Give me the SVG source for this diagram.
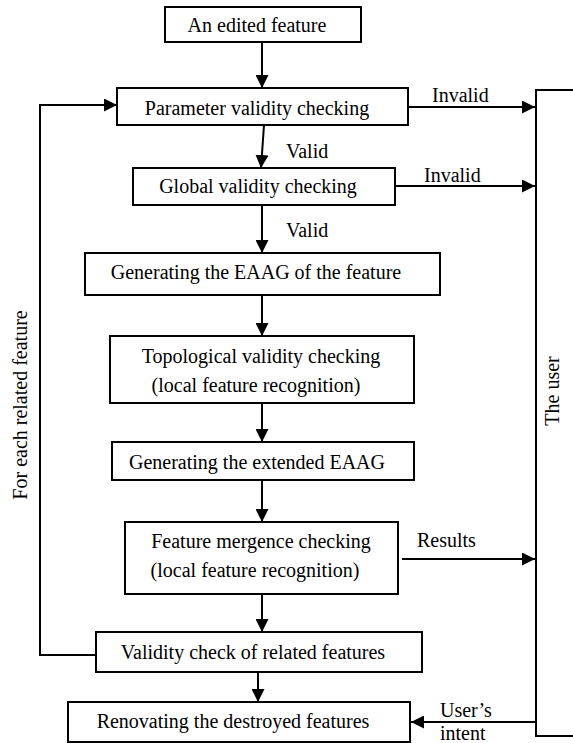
<svg xmlns="http://www.w3.org/2000/svg" width="573" height="743" viewBox="0 0 573 743">
<defs>
<marker id="ah" markerWidth="13" markerHeight="13" refX="13" refY="6.5" orient="auto" markerUnits="userSpaceOnUse">
<path d="M0,0 L13,6.5 L0,13 Z" fill="#000"/>
</marker>
<style>
rect{fill:#fff;stroke:#000;stroke-width:2}
text{font-family:'Times New Roman',Tinos,'Liberation Serif','Noto Serif','DejaVu Serif',serif;font-size:20px;fill:#000}
.c{text-anchor:middle}
#connectors path,#connectors line{stroke:#000;stroke-width:2;fill:none}
</style>
</defs>
<rect x="0" y="0" width="573" height="743" style="fill:#fff;stroke:none"/>
<g id="connectors">
<line x1="262" y1="42" x2="262" y2="88" marker-end="url(#ah)"/>
<line x1="264" y1="125" x2="261" y2="168" marker-end="url(#ah)"/>
<line x1="262" y1="205" x2="262" y2="253" marker-end="url(#ah)"/>
<line x1="262" y1="295" x2="262" y2="336" marker-end="url(#ah)"/>
<line x1="262" y1="403" x2="262" y2="442" marker-end="url(#ah)"/>
<line x1="262" y1="480" x2="262" y2="522" marker-end="url(#ah)"/>
<line x1="262" y1="594" x2="262" y2="632" marker-end="url(#ah)"/>
<line x1="258" y1="672" x2="258" y2="702" marker-end="url(#ah)"/>
<line x1="408" y1="107" x2="535" y2="107" marker-end="url(#ah)"/>
<line x1="395" y1="186" x2="535" y2="186" marker-end="url(#ah)"/>
<line x1="402" y1="559" x2="535" y2="559" marker-end="url(#ah)"/>
<line x1="536" y1="722" x2="411" y2="722" marker-end="url(#ah)"/>
<path d="M96,655 H40 V105 H117" marker-end="url(#ah)"/>
<text x="432" y="102">Invalid</text>
<text x="424" y="182">Invalid</text>
<text x="286" y="158">Valid</text>
<text x="286" y="237">Valid</text>
<text x="417" y="547">Results</text>
<text x="440" y="717">User’s</text>
<text x="440" y="740">intent</text>
<text class="c" transform="translate(27,405) rotate(-90)">For each related feature</text>
</g>
<g id="n-edited"><rect x="165" y="7" width="196" height="35"/><text class="c" x="257" y="32">An edited feature</text></g>
<g id="n-param"><rect x="117" y="88" width="291" height="37"/><text class="c" x="257" y="115">Parameter validity checking</text></g>
<g id="n-global"><rect x="133" y="168" width="262" height="37"/><text class="c" x="258" y="193">Global validity checking</text></g>
<g id="n-eaag"><rect x="85" y="253" width="355" height="42"/><text class="c" x="256" y="279">Generating the EAAG of the feature</text></g>
<g id="n-topo"><rect x="110" y="336" width="304" height="67"/><text class="c" x="261" y="363">Topological validity checking</text><text class="c" x="256" y="392">(local feature recognition)</text></g>
<g id="n-ext"><rect x="112" y="442" width="302" height="38"/><text class="c" x="257" y="469">Generating the extended EAAG</text></g>
<g id="n-merge"><rect x="125" y="522" width="273" height="72"/><text class="c" x="261" y="548">Feature mergence checking</text><text class="c" x="255" y="577">(local feature recognition)</text></g>
<g id="n-related"><rect x="96" y="632" width="326" height="40"/><text class="c" x="253" y="659">Validity check of related features</text></g>
<g id="n-renov"><rect x="68" y="702" width="342" height="40"/><text class="c" x="233" y="728">Renovating the destroyed features</text></g>
<g id="n-user"><rect x="536" y="90" width="38" height="646"/><text class="c" transform="translate(559,391) rotate(-90)">The user</text></g>
</svg>
